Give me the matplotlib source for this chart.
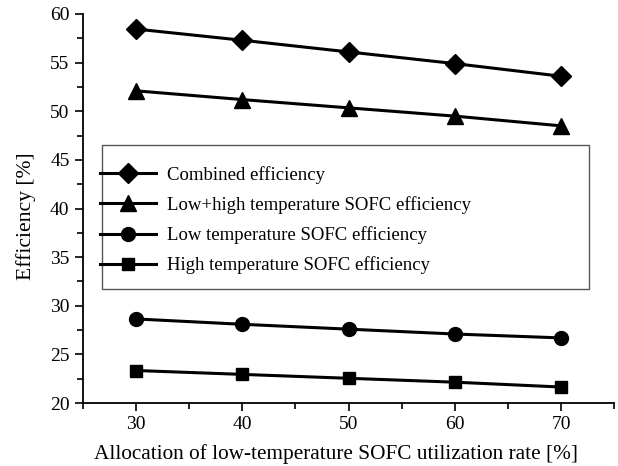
import numpy as np
import matplotlib.pyplot as plt
from matplotlib.ticker import MultipleLocator
from matplotlib.patches import Rectangle

plt.rcParams['font.family'] = ['Liberation Serif', 'DejaVu Serif']

# allocation of low-temperature SOFC utilization rate [%]
allocation = [30, 40, 50, 60, 70]

combined = [58.45, 57.3, 56.1, 54.9, 53.6]
low_high = [52.1, 51.2, 50.35, 49.5, 48.5]
low_temp = [28.65, 28.1, 27.6, 27.1, 26.7]
high_temp = [23.35, 22.95, 22.55, 22.15, 21.65]

series = [
    ('Combined efficiency', combined, 'D', 10),
    ('Low+high temperature SOFC efficiency', low_high, '^', 11),
    ('Low temperature SOFC efficiency', low_temp, 'o', 10),
    ('High temperature SOFC efficiency', high_temp, 's', 9),
]

fig = plt.figure(figsize=(6.18, 4.66), dpi=100)
ax = fig.add_axes([0.134, 0.135, 0.86, 0.835])

for label, vals, mk, ms in series:
    ax.plot(allocation, vals, color='black', lw=2.2, marker=mk, ms=ms, label=label)

ax.set_xlim(25, 75)
ax.set_ylim(20, 60)
ax.xaxis.set_major_locator(MultipleLocator(10))
ax.xaxis.set_minor_locator(MultipleLocator(5))
ax.yaxis.set_major_locator(MultipleLocator(5))
ax.yaxis.set_minor_locator(MultipleLocator(2.5))
ax.set_xticks([30, 40, 50, 60, 70])
ax.tick_params(which='both', direction='out', width=1.2, labelsize=14)
ax.tick_params(which='major', length=6)
ax.tick_params(which='minor', length=4)

for side in ['top', 'right']:
    ax.spines[side].set_visible(False)
for side in ['left', 'bottom']:
    ax.spines[side].set_linewidth(1.3)

ax.set_xlabel('Allocation of low-temperature SOFC utilization rate [%]', fontsize=15.3)
ax.xaxis.set_label_coords(0.476, -0.106)
ax.set_ylabel('Efficiency [%]', fontsize=15.6)
ax.yaxis.set_label_coords(-0.088, 0.481)

# legend box drawn separately so the handles can run up to its left edge
ax.add_patch(Rectangle((0.036, 0.293), 0.917, 0.37, transform=ax.transAxes,
                       fill=False, edgecolor='#555555', lw=1.0, zorder=3))
ax.legend(loc='upper left', bbox_to_anchor=(0.032, 0.61), frameon=False,
          fontsize=13.5, handlelength=3.0, handletextpad=0.6, labelspacing=0.66,
          borderpad=0, borderaxespad=0)

fig.savefig('out.png', dpi=100)
